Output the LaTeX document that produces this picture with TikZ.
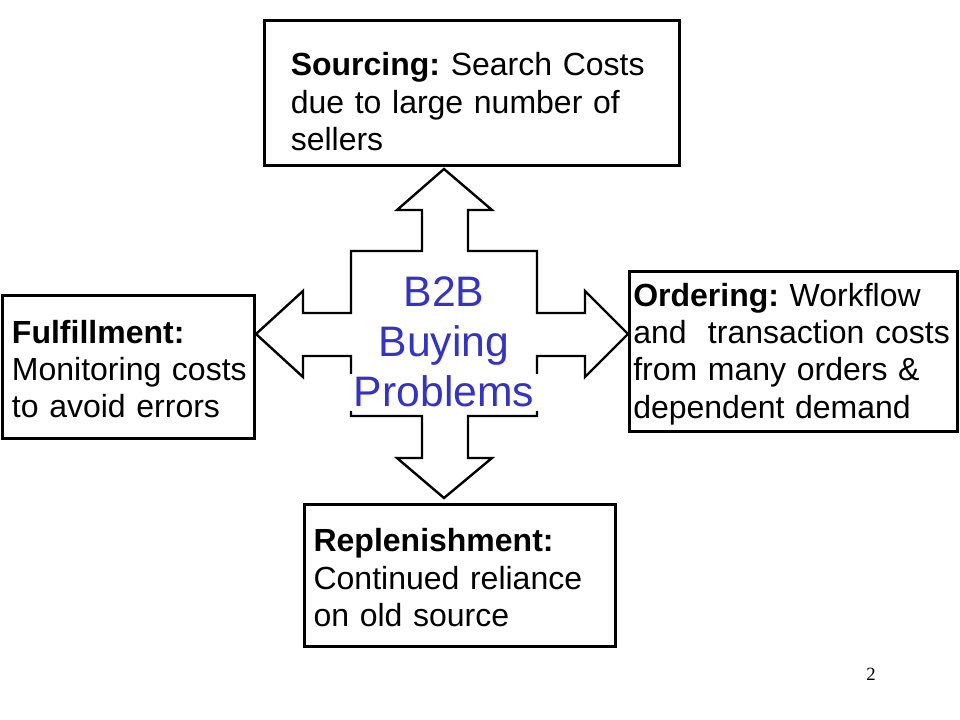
\documentclass[tikz,border=0pt]{standalone}
\usepackage{fontspec}
\setmainfont{Liberation Sans}
\newfontfamily\pagenumfont{Liberation Serif}
\usepackage{tikz}
\definecolor{problemblue}{RGB}{51,51,204}
\frenchspacing

\begin{document}
\begin{tikzpicture}[x=0.75pt, y=-0.75pt,
        box/.style={draw, line width=2.25pt, inner sep=0pt},
        boxtext/.style={anchor=base west, inner sep=0pt, text width=300pt, align=left,
            font=\fontsize{24}{28}\selectfont}]
        \useasboundingbox (0,0) rectangle (960,720);
        % four-way arrow
        \draw[line width=1.8pt, fill=white] (444,169) -- (492,210) -- (468,210) -- (468,251)
            -- (537,251) -- (537,313) -- (585,313) -- (585,291) -- (628,334) -- (585,377)
            -- (585,356) -- (537,356) -- (537,416) -- (468,416) -- (468,458) -- (492,458)
            -- (444,498) -- (397,458) -- (422,458) -- (422,416) -- (351,416) -- (351,356)
            -- (303,356) -- (303,377) -- (256,334) -- (303,291) -- (303,313) -- (351,313)
            -- (351,251) -- (422,251) -- (422,210) -- (397,210) -- cycle;
        % white strip behind the last line
        \fill[white] (348,374) rectangle (540,411);
        \node[anchor=base, inner sep=0pt, text width=200pt, align=center, text=problemblue,
            font=\fontsize{32}{37.5}\selectfont] (problems) at (444,306.7) {B2B\\Buying\\Problems};
        % boxes
        \node[box, minimum width=311.25pt, minimum height=108.75pt] (sourcing) at (471.5,93.5) {};
        \node[box, minimum width=246pt, minimum height=119.25pt] (ordering) at (793,351.5) {};
        \node[box, minimum width=189pt, minimum height=106.5pt] (fulfillment) at (128,367) {};
        \node[box, minimum width=233.25pt, minimum height=106.5pt] (replenishment) at (459.5,575) {};
        \node[boxtext] (sourcingtext) at (290.5,75.7) {\textbf{Sourcing:} Search Costs\\due to large number of\\sellers};
        \node[boxtext] (orderingtext) at (633,306) {\textbf{Ordering:} Workflow\\and\ \ transaction costs\\from many orders \&\\dependent demand};
        \node[boxtext] (fulfillmenttext) at (11.7,343.3) {\textbf{Fulfillment:}\\Monitoring costs\\to avoid errors};
        \node[boxtext] (replenishmenttext) at (313.3,551.7) {\textbf{Replenishment:}\\Continued reliance\\on old source};
        \node[anchor=base, inner sep=0pt, font=\pagenumfont\fontsize{14}{16}\selectfont] (pagenum) at (871,680) {2};
    \end{tikzpicture}
\end{document}
